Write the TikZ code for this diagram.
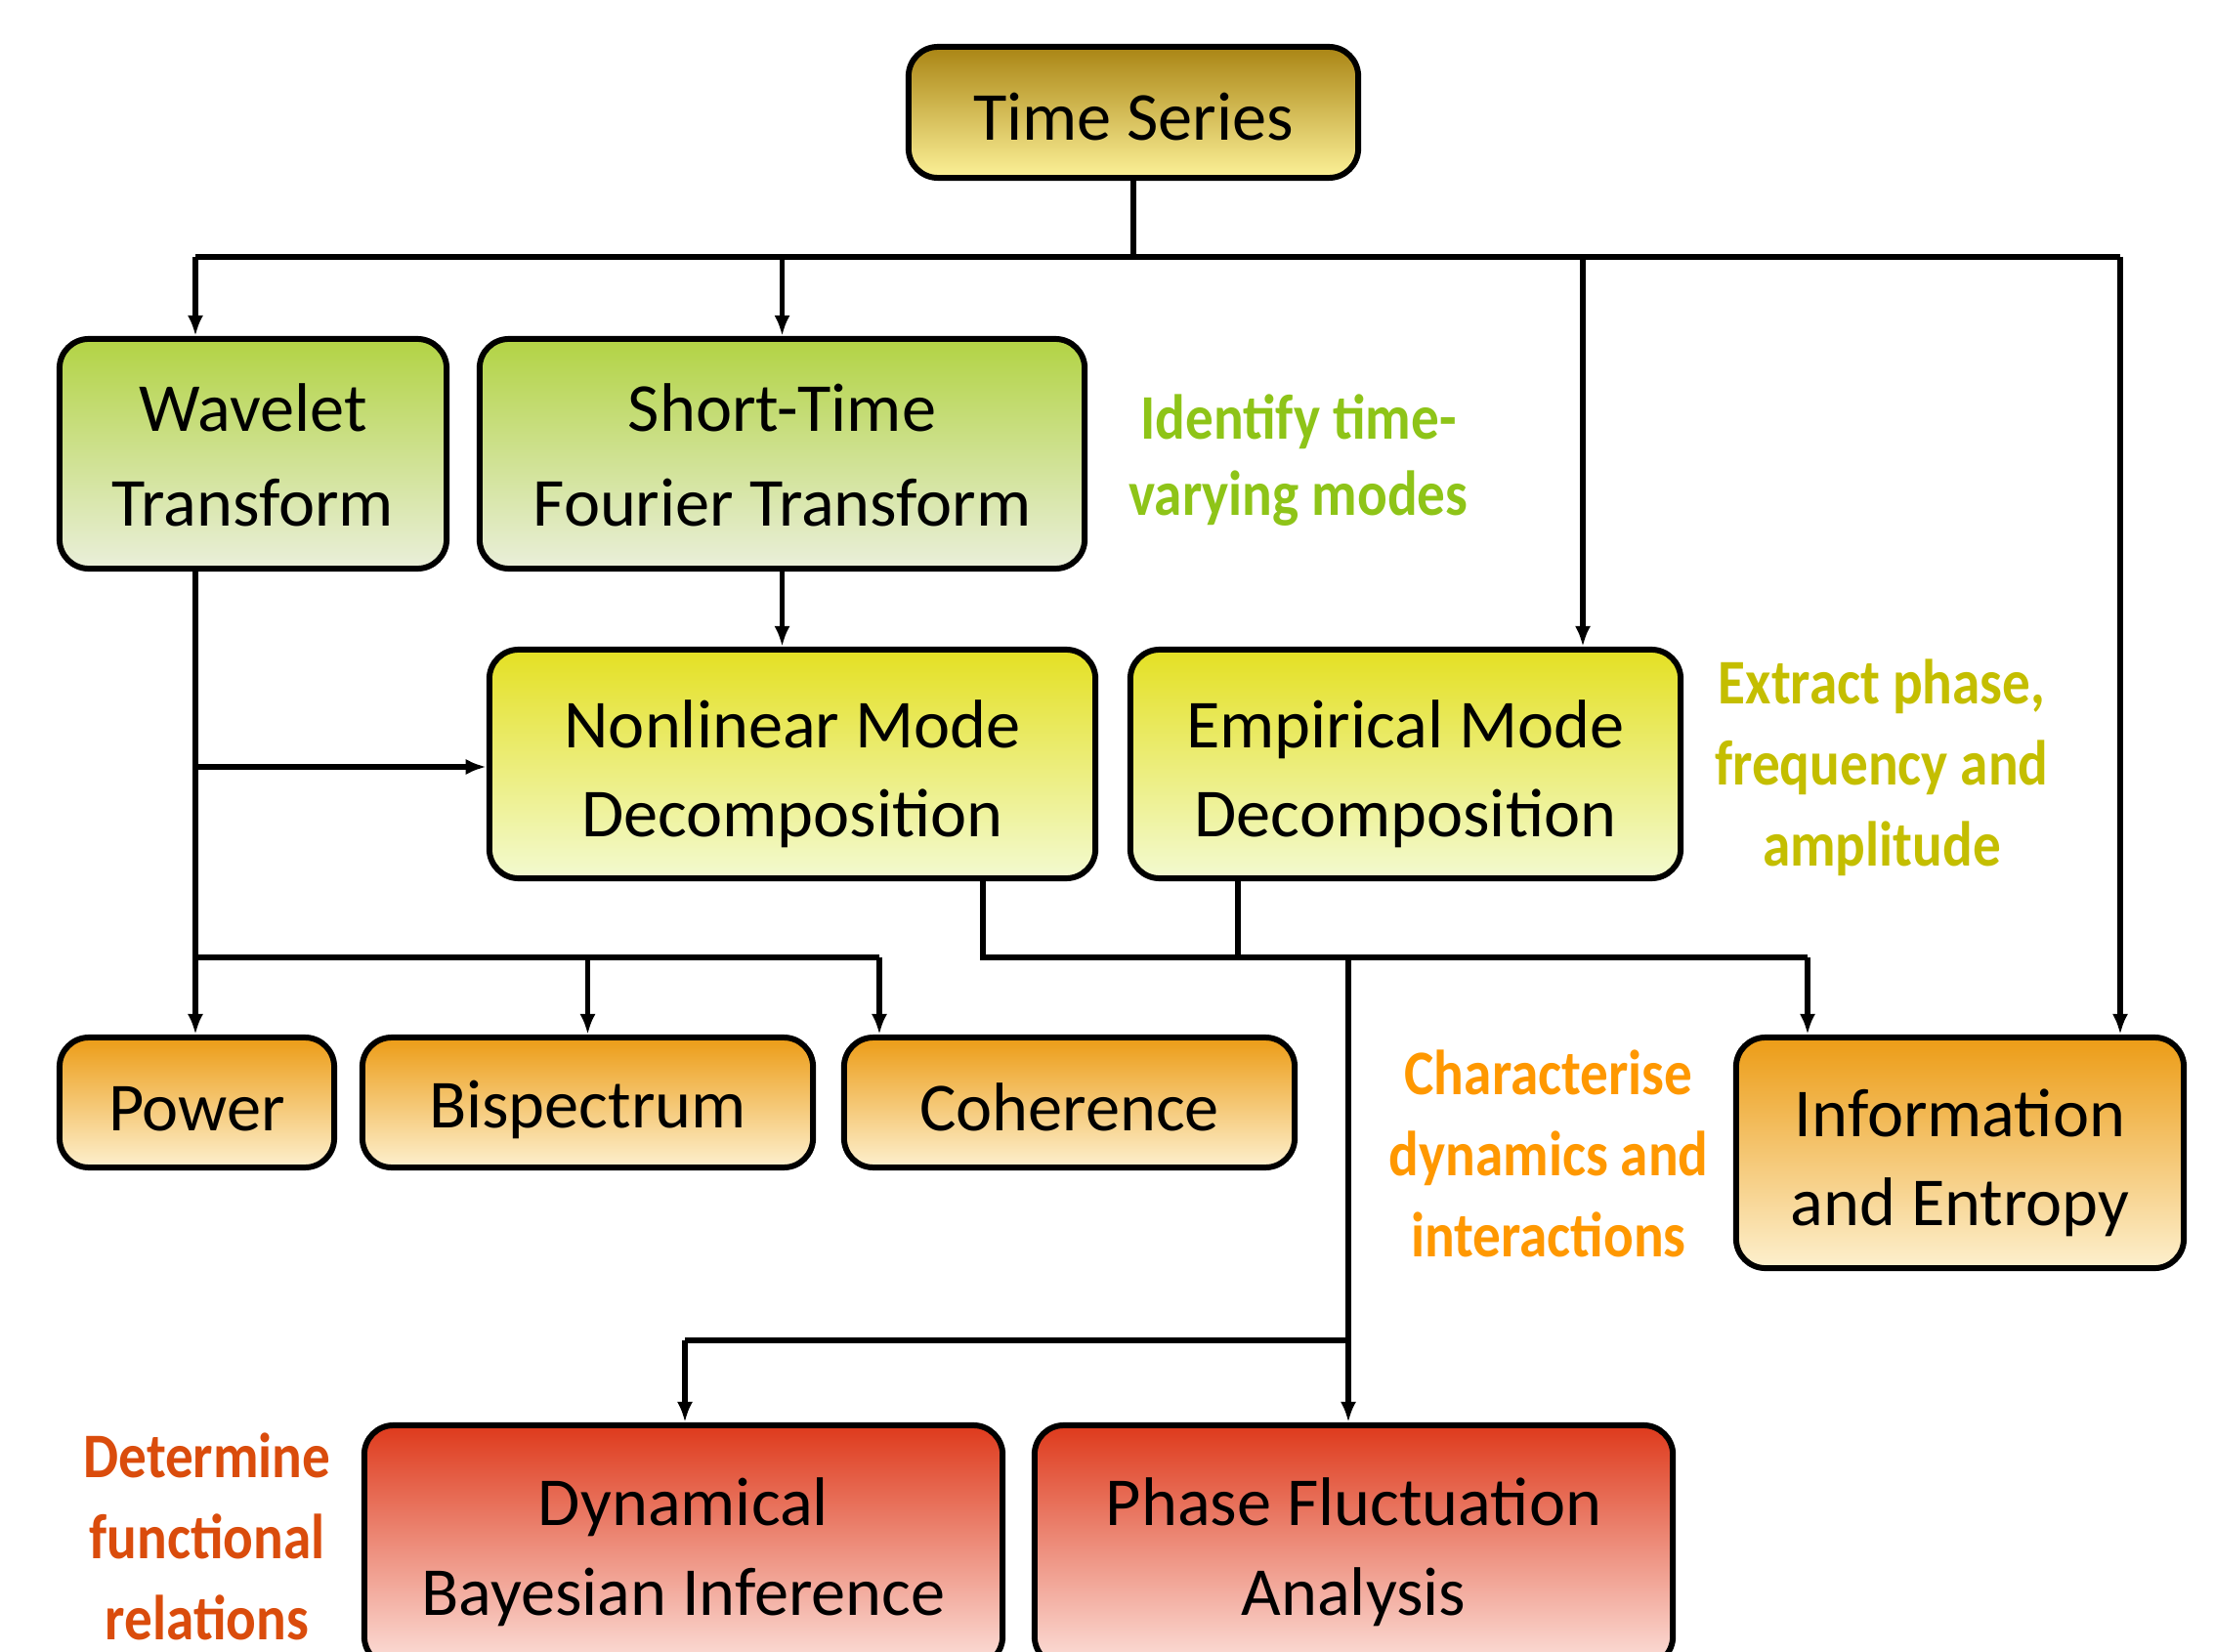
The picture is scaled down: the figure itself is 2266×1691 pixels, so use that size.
\documentclass[tikz,border=0pt]{standalone}
\usepackage{fontspec}
\setmainfont{Carlito}
\newfontfamily\lblfont{Carlito}[FakeStretch=0.88]
\usetikzlibrary{arrows.meta,calc}

% box fills
\definecolor{tsTop}{RGB}{170,133,20}
\definecolor{tsBot}{RGB}{252,241,152}
\definecolor{grTop}{RGB}{178,211,68}
\definecolor{grBot}{RGB}{234,239,218}
\definecolor{ylTop}{RGB}{228,224,35}
\definecolor{ylBot}{RGB}{243,250,208}
\definecolor{orTop}{RGB}{236,156,22}
\definecolor{orBot}{RGB}{253,240,206}
\definecolor{rdTop}{RGB}{222,58,28}
\definecolor{rdBot}{RGB}{252,224,218}
% annotation colours
\definecolor{lblGreen}{RGB}{142,196,24}
\definecolor{lblOlive}{RGB}{196,190,0}
\definecolor{lblOrange}{RGB}{255,152,0}
\definecolor{lblRed}{RGB}{218,76,12}

% pads the first text line upward so the text block sits a little lower
\newcommand\padtop[2]{\raisebox{0pt}[\dimexpr\height+#1\relax]{#2}}

\tikzset{
  box/.style={draw=black, line width=1.7pt, rounded corners=0.3cm,
    inner sep=0pt, align=center, text=black,
    font=\fontsize{20}{26}\selectfont},
  tsbox/.style={box, top color=tsTop, bottom color=tsBot},
  grbox/.style={box, top color=grTop, bottom color=grBot,
    font=\fontsize{20}{27.6}\selectfont},
  ylbox/.style={box, top color=ylTop, bottom color=ylBot},
  orbox/.style={box, top color=orTop, bottom color=orBot},
  rdbox/.style={box, top color=rdTop, bottom color=rdBot},
  lbl/.style={align=center, inner sep=0pt,
    font=\lblfont\bfseries\fontsize{18.5}{23.6}\selectfont},
  link/.style={draw=black, line width=1.6pt},
  arr/.style={link, -{Latex[length=6pt,width=4.6pt]}}
}

\begin{document}
\begin{tikzpicture}[x=0.01cm, y=-0.01cm]
\useasboundingbox (0,0) rectangle (2266,1691);
\clip (0,0) rectangle (2266,1691);

% ---- boxes ----
\node[tsbox, minimum width=4.6cm,  minimum height=1.34cm] (ts)   at (1160,115) {\padtop{2.5pt}{Time Series}};
\node[grbox, minimum width=3.96cm, minimum height=2.35cm] (wav)  at (259,464.5) {\padtop{1pt}{Wavelet}\\Transform};
\node[grbox, minimum width=6.19cm, minimum height=2.35cm] (stft) at (800.5,464.5) {\padtop{1pt}{Short-Time}\\Fourier Transform};
\node[ylbox, minimum width=6.2cm,  minimum height=2.34cm] (nmd)  at (811,782) {\padtop{5.8pt}{Nonlinear Mode}\\Decomposition};
\node[ylbox, minimum width=5.63cm, minimum height=2.34cm] (emd)  at (1438.5,782) {\padtop{5.8pt}{Empirical Mode}\\Decomposition};
\node[orbox, minimum width=2.81cm, minimum height=1.33cm] (pow)  at (201.5,1128.5) {\padtop{4pt}{Power}};
\node[orbox, minimum width=4.61cm, minimum height=1.33cm] (bis)  at (601.5,1128.5) {\padtop{4pt}{Bispectrum}};
\node[orbox, minimum width=4.61cm, minimum height=1.33cm] (coh)  at (1094.5,1128.5) {\padtop{3pt}{Coherence}};
\node[orbox, minimum width=4.58cm, minimum height=2.36cm] (info) at (2006,1180) {\padtop{6pt}{Information}\\and Entropy};
\node[rdbox, minimum width=6.53cm, minimum height=2.46cm] (dbi)  at (699.5,1582) {\padtop{3.8pt}{Dynamical}\\Bayesian Inference};
\node[rdbox, minimum width=6.53cm, minimum height=2.46cm] (pfa)  at (1385.5,1582) {\padtop{3.8pt}{Phase Fluctuation}\\Analysis};

% ---- annotations ----
\node[lbl, text=lblGreen, font=\lblfont\bfseries\fontsize{18.5}{22.2}\selectfont] (lidf) at (1329,471) {Identify time-\\varying modes};
\node[lbl, text=lblOlive]  (lext) at (1926,786)  {Extract phase,\\frequency and\\amplitude};
\node[lbl, text=lblOrange] (lchr) at (1585,1181) {Characterise\\dynamics and\\interactions};
\node[lbl, text=lblRed]    (ldet) at (212,1573)  {Determine\\functional\\relations};

% ---- routing points ----
\coordinate (bus)   at (0,263);    % top distribution bus
\coordinate (xw)    at (200,0);    % wavelet trunk
\coordinate (xemd)  at (1620,0);
\coordinate (xinf)  at (2170,0);
\coordinate (xinfl) at (1850,0);
\coordinate (xcoh)  at (900,0);
\coordinate (xnmd)  at (1006,0);
\coordinate (xemdo) at (1267,0);
\coordinate (xmid)  at (1380,0);
\coordinate (xdbi)  at (701,0);
\coordinate (lowbus) at (0,980);
\coordinate (botbus) at (0,1372);
\coordinate (brY)   at (0,785);

% ---- top level ----
\draw[link] (ts.south) -- (ts.south |- bus);
\draw[link] (xw |- bus) -- (xinf |- bus);
\draw[arr] (xw |- bus) -- (xw |- wav.north);
\draw[arr] (stft.north |- bus) -- (stft.north);
\draw[arr] (xemd |- bus) -- (xemd |- emd.north);
\draw[arr] (xinf |- bus) -- (xinf |- info.north);

% ---- wavelet / STFT outputs ----
\draw[arr] (stft.south) -- (stft.south |- nmd.north);
\draw[arr] (xw |- wav.south) -- (xw |- pow.north);
\draw[arr] (xw |- brY) -- (nmd.west |- brY);
\draw[link] (xw |- lowbus) -- (xcoh |- lowbus);
\draw[arr] (bis.north |- lowbus) -- (bis.north);
\draw[arr] (xcoh |- lowbus) -- (xcoh |- coh.north);

% ---- decomposition outputs ----
\draw[link] (xnmd |- nmd.south) -- (xnmd |- lowbus) -- (xinfl |- lowbus);
\draw[arr] (xinfl |- lowbus) -- (xinfl |- info.north);
\draw[link] (xemdo |- emd.south) -- (xemdo |- lowbus);
\draw[arr] (xmid |- lowbus) -- (xmid |- pfa.north);
\draw[link] (xdbi |- botbus) -- (xmid |- botbus);
\draw[arr] (xdbi |- botbus) -- (xdbi |- dbi.north);
\end{tikzpicture}
\end{document}
